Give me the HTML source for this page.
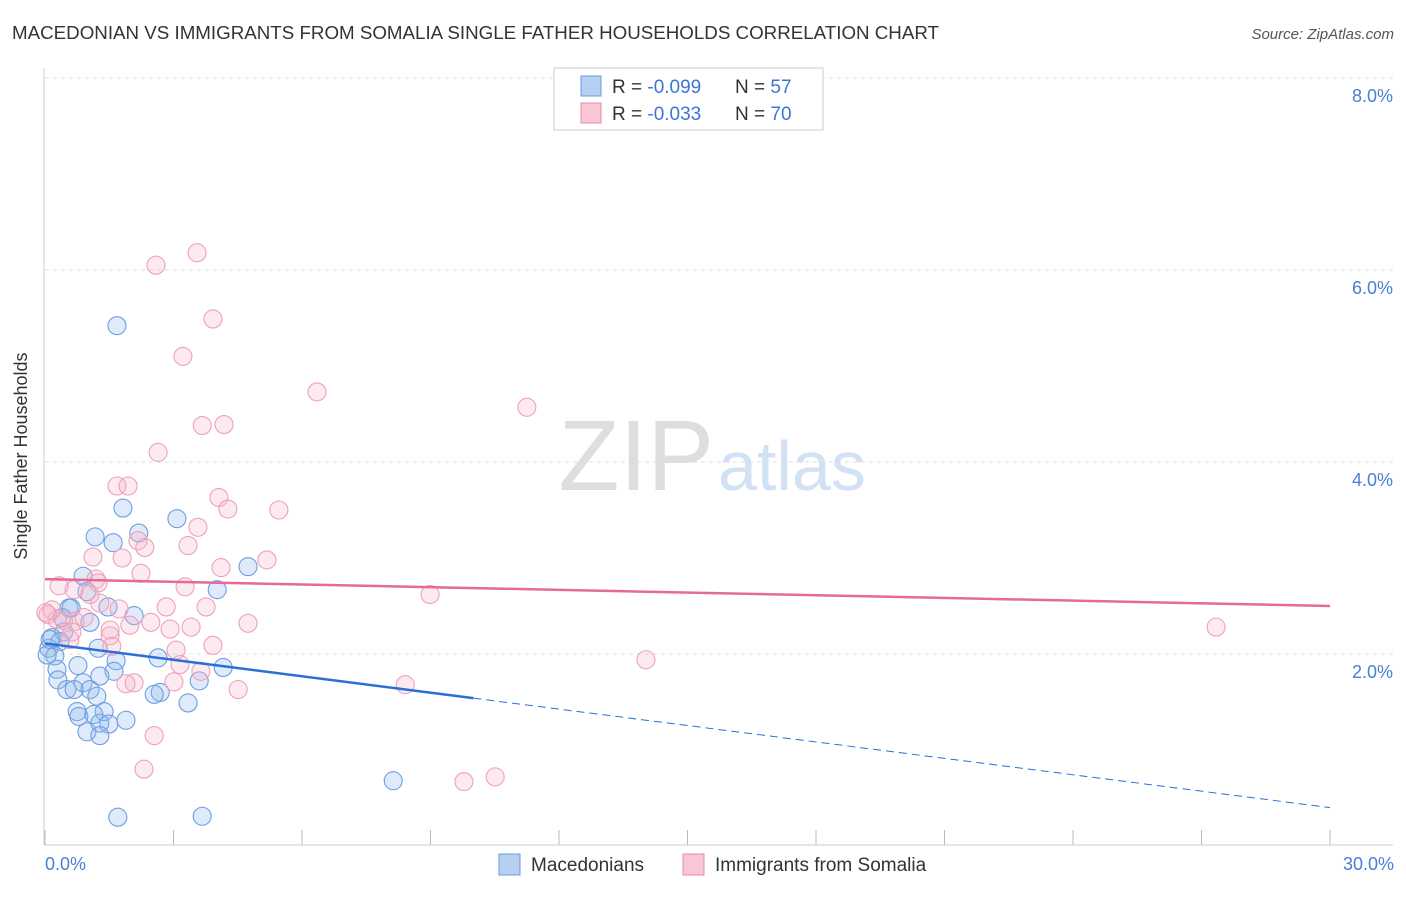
<!DOCTYPE html>
<html><head><meta charset="utf-8"><style>
body{margin:0;background:#fff;font-family:"Liberation Sans",sans-serif}
svg text{font-family:"Liberation Sans",sans-serif}
</style></head><body>
<svg width="1406" height="892" xmlns="http://www.w3.org/2000/svg">
<text x="12" y="39" font-size="18" fill="#333" textLength="927" lengthAdjust="spacingAndGlyphs">MACEDONIAN VS IMMIGRANTS FROM SOMALIA SINGLE FATHER HOUSEHOLDS CORRELATION CHART</text>
<text x="1394" y="39" font-size="15" fill="#555" font-style="italic" text-anchor="end">Source: ZipAtlas.com</text>
<g id="grid"></g>
<text x="714" y="490" font-size="100" fill="#dedede" text-anchor="end" font-family="Liberation Serif">ZIP</text>
<text x="718" y="490" font-size="70" fill="#d2e1f3">atlas</text>
<line x1="44" y1="68" x2="44" y2="845" stroke="#ccc"/>
<line x1="44" y1="845" x2="1393" y2="845" stroke="#ccc"/>
<text x="27" y="456" font-size="18" fill="#333" transform="rotate(-90 27 456)" text-anchor="middle">Single Father Households</text>
<text x="45" y="870" font-size="18" fill="#4a7fd4">0.0%</text>
<text x="1394" y="870" font-size="18" fill="#4a7fd4" text-anchor="end">30.0%</text>
<g id="pts"></g>
<g id="lines"></g>
<g>
<rect x="554" y="68" width="269" height="62" fill="#fff" stroke="#ccc"/>
<rect x="581" y="76" width="20" height="20" fill="#b7d0f2" stroke="#6a9de0"/>
<rect x="581" y="103" width="20" height="20" fill="#f8c6d5" stroke="#e88aa8"/>
<text x="612" y="93" font-size="19" fill="#333">R = <tspan fill="#3d74d6">-0.099</tspan></text>
<text x="735" y="93" font-size="19" fill="#333">N = <tspan fill="#3d74d6">57</tspan></text>
<text x="612" y="120" font-size="19" fill="#333">R = <tspan fill="#3d74d6">-0.033</tspan></text>
<text x="735" y="120" font-size="19" fill="#333">N = <tspan fill="#3d74d6">70</tspan></text>
</g>
<g>
<rect x="499" y="854" width="21" height="21" fill="#b7d0f2" stroke="#6a9de0"/>
<text x="531" y="871" font-size="19" fill="#333">Macedonians</text>
<rect x="683" y="854" width="21" height="21" fill="#f8c6d5" stroke="#e88aa8"/>
<text x="715" y="871" font-size="19" fill="#333">Immigrants from Somalia</text>
</g>
</svg>
<script>
const yTicks=[2,4,6,8];
const xTicks=[0,3,6,9,12,15,18,21,24,27,30];
const blueX=[1.68,1.82,1.17,1.59,2.19,3.08,4.74,0.89,0.98,4.02,0.56,1.47,2.08,0.40,1.05,0.44,0.16,0.35,0.09,1.24,0.23,2.64,1.66,0.77,4.16,0.28,1.61,1.28,0.30,0.89,3.6,0.51,1.05,0.68,2.69,2.55,1.21,3.34,0.75,1.38,0.79,1.14,1.89,1.28,1.49,0.98,1.28,8.13,1.70,3.67,0.05,0.12,0.61];
const blueY=[5.42,3.52,3.22,3.16,3.26,3.41,2.91,2.81,2.65,2.67,2.48,2.49,2.40,2.38,2.33,2.23,2.17,2.13,2.06,2.06,1.98,1.96,1.93,1.88,1.86,1.84,1.82,1.77,1.73,1.70,1.72,1.63,1.63,1.63,1.60,1.58,1.56,1.49,1.40,1.40,1.35,1.37,1.31,1.28,1.27,1.19,1.15,0.68,0.30,0.31,1.99,2.15,2.48];
const pinkX=[3.55,2.59,3.92,3.22,6.35,11.25,3.67,4.18,2.64,1.68,1.94,4.06,4.27,5.46,2.17,2.33,3.34,3.57,1.12,1.80,5.18,4.11,2.24,1.19,1.24,0.33,3.27,0.68,1.05,8.99,1.28,1.73,2.83,3.76,0.07,0.28,0.44,0.70,0.91,2.47,4.74,1.98,27.34,3.41,1.52,0.63,2.92,1.52,0.58,3.92,1.56,3.06,14.03,3.15,3.64,1.89,2.08,3.01,4.51,8.41,2.55,2.31,9.78,10.51,0.16,0.02];
const pinkY=[6.18,6.05,5.49,5.10,4.73,4.57,4.38,4.39,4.10,3.75,3.75,3.63,3.51,3.50,3.18,3.11,3.13,3.32,3.01,3.00,2.98,2.90,2.84,2.78,2.74,2.71,2.70,2.67,2.62,2.62,2.53,2.47,2.49,2.49,2.41,2.36,2.35,2.34,2.38,2.33,2.32,2.30,2.28,2.28,2.25,2.23,2.26,2.19,2.15,2.09,2.08,2.04,1.94,1.89,1.82,1.69,1.70,1.71,1.63,1.68,1.15,0.80,0.67,0.72,2.46,2.43];
const blueTrend=[2.11,0.40];
const pinkTrend=[2.78,2.50];
const blueSolidEnd=10;
const sx=v=>45+v/30*1285;
const sy=v=>846-v*96;
const NS="http://www.w3.org/2000/svg";
function mk(t,a,p){const e=document.createElementNS(NS,t);for(const k in a)e.setAttribute(k,a[k]);p.appendChild(e);return e;}
const grid=document.getElementById('grid');
yTicks.forEach(t=>{
 const l=mk('line',{x1:45,x2:1393,y1:sy(t),y2:sy(t),stroke:'#ddd','stroke-dasharray':'4,4'},grid);
 
 
 const tx=mk('text',{x:1393,y:sy(t)+24,'font-size':18,fill:'#4a7fd4','text-anchor':'end'},grid);
 tx.textContent=t.toFixed(1)+'%';
 
 
});
xTicks.forEach(t=>{
 const l=mk('line',{x1:sx(t),x2:sx(t),y1:830,y2:845,stroke:'#bbb'},grid);
 
 
});
const pts=document.getElementById('pts');
blueX.forEach((x,i)=>{
 const c=mk('circle',{cx:sx(x),cy:sy(blueY[i]),r:9,fill:'rgba(140,182,236,0.28)',stroke:'#6d9ee0','stroke-width':1.1},pts);
 
 
});
pinkX.forEach((x,i)=>{
 const c=mk('circle',{cx:sx(x),cy:sy(pinkY[i]),r:9,fill:'rgba(246,178,200,0.28)',stroke:'#efa0ba','stroke-width':1.1},pts);
 
 
});
const lines=document.getElementById('lines');
const by=x=>blueTrend[0]+(blueTrend[1]-blueTrend[0])*x/30;
let l1=mk('line',{x1:sx(0),y1:sy(by(0)),x2:sx(blueSolidEnd),y2:sy(by(blueSolidEnd)),stroke:'#2a6fd6','stroke-width':2.5},lines);


let l2=mk('line',{x1:sx(blueSolidEnd),y1:sy(by(blueSolidEnd)),x2:sx(30),y2:sy(by(30)),stroke:'#2a6fd6','stroke-width':1,'stroke-dasharray':'8,5'},lines);


let l3=mk('line',{x1:sx(0),y1:sy(pinkTrend[0]),x2:sx(30),y2:sy(pinkTrend[1]),stroke:'#e5699a','stroke-width':2.5},lines);


</script>
</body></html>
